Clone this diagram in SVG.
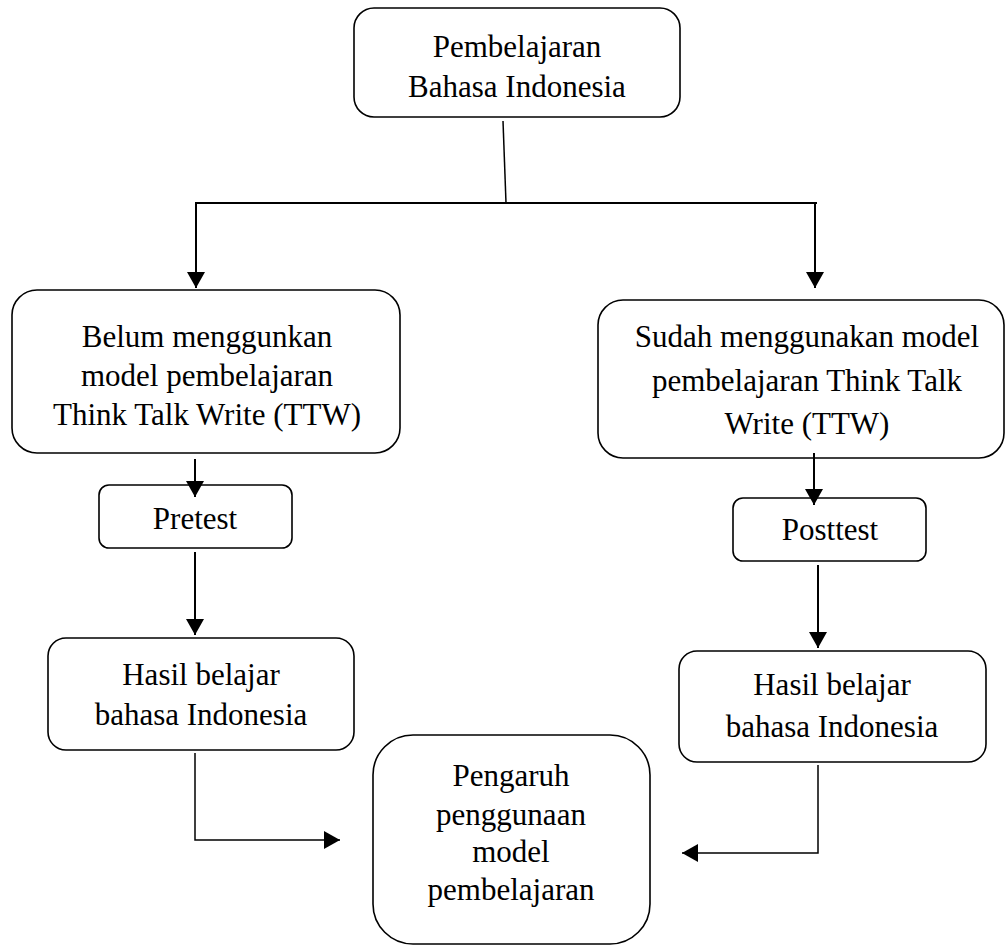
<svg xmlns="http://www.w3.org/2000/svg" width="1006" height="948" viewBox="0 0 1006 948">
<defs>
<marker id="ah" viewBox="0 0 16 18" refX="16" refY="9" markerWidth="16" markerHeight="18" markerUnits="userSpaceOnUse" orient="auto">
<path d="M0,0 L16,9 L0,18 z" fill="#000"/>
</marker>
<style>
.box{fill:#fff;stroke:#000;stroke-width:1.6}
.t{font-family:"Liberation Serif","Times New Roman",serif;font-size:31px;fill:#000;text-anchor:middle}
.c{fill:none;stroke:#000;stroke-width:2}
.c1{fill:none;stroke:#000;stroke-width:1.5}
</style>
</defs>
<rect width="1006" height="948" fill="#fff"/>
<g id="n-top">
<rect class="box" x="354" y="8" width="326" height="109" rx="20"/>
<text class="t" x="517" y="57">Pembelajaran</text>
<text class="t" x="517" y="97">Bahasa Indonesia</text>
</g>
<g id="n-belum">
<rect class="box" x="12" y="290" width="388" height="163" rx="25"/>
<text class="t" x="207" y="347">Belum menggunkan</text>
<text class="t" x="207" y="386">model pembelajaran</text>
<text class="t" x="207" y="425">Think Talk Write (TTW)</text>
</g>
<g id="n-sudah">
<rect class="box" x="598" y="300" width="406" height="158" rx="25"/>
<text class="t" x="807" y="347">Sudah menggunakan model</text>
<text class="t" x="807" y="391">pembelajaran Think Talk</text>
<text class="t" x="807" y="434">Write (TTW)</text>
</g>
<g id="n-pretest">
<rect class="box" x="99" y="485" width="193" height="63" rx="10"/>
<text class="t" x="195" y="529">Pretest</text>
</g>
<g id="n-posttest">
<rect class="box" x="733" y="498" width="193" height="63" rx="10"/>
<text class="t" x="830" y="540">Posttest</text>
</g>
<g id="n-hasil1">
<rect class="box" x="48" y="638" width="306" height="112" rx="18"/>
<text class="t" x="201" y="685">Hasil belajar</text>
<text class="t" x="201" y="725">bahasa Indonesia</text>
</g>
<g id="n-hasil2">
<rect class="box" x="679" y="651" width="307" height="111" rx="18"/>
<text class="t" x="832" y="695">Hasil belajar</text>
<text class="t" x="832" y="737">bahasa Indonesia</text>
</g>
<g id="n-pengaruh">
<rect class="box" x="373" y="735" width="277" height="209" rx="40"/>
<text class="t" x="511" y="786">Pengaruh</text>
<text class="t" x="511" y="825">penggunaan</text>
<text class="t" x="511" y="862">model</text>
<text class="t" x="511" y="900">pembelajaran</text>
</g>
<g id="connectors">
<line class="c1" x1="503" y1="121" x2="506" y2="203"/>
<line class="c" x1="195" y1="203" x2="817" y2="203"/>
<path class="c" d="M196,203 V288" marker-end="url(#ah)"/>
<path class="c" d="M815,203 V288" marker-end="url(#ah)"/>
<path class="c" d="M195,459 V497" marker-end="url(#ah)"/>
<path class="c" d="M195,552 V635" marker-end="url(#ah)"/>
<path class="c" d="M814,453 V505" marker-end="url(#ah)"/>
<path class="c" d="M818,565 V648" marker-end="url(#ah)"/>
<path class="c1" d="M195,753 V840 H340" marker-end="url(#ah)"/>
<path class="c1" d="M818,765 V853 H682" marker-end="url(#ah)"/>
</g>
</svg>
